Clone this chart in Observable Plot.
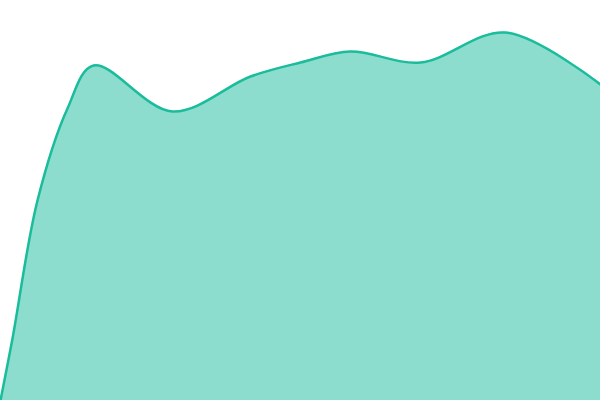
<!DOCTYPE html>
<html>
<head>
<meta charset="utf-8">
<script src="https://cdn.jsdelivr.net/npm/d3@7"></script>
<script src="https://cdn.jsdelivr.net/npm/@observablehq/plot@0.6"></script>
<style>
html,body{margin:0;padding:0;background:#fff;overflow:hidden;}
</style>
</head>
<body>
<div id="chart"></div>
<script>
const xs = [0, 12, 37, 67, 93, 172, 250, 300, 350, 420, 505, 600];
const values = [0, 62, 200, 292, 335, 289, 324, 338, 349, 338, 368, 316];
const data = xs.map((x, i) => ({x, v: values[i]}));

const chart = Plot.plot({
  width: 600,
  height: 400,
  margin: 0,
  x: {domain: [0, 600], axis: null},
  y: {domain: [0, 400], axis: null},
  marks: [
    Plot.areaY(data, {x: "x", y: "v", fill: "#1abc9c", fillOpacity: 0.5, curve: "catmull-rom"}),
    Plot.lineY(data, {x: "x", y: "v", stroke: "#1abc9c", strokeWidth: 2.5, curve: "catmull-rom"})
  ]
});
document.getElementById("chart").appendChild(chart);
</script>
</body>
</html>
